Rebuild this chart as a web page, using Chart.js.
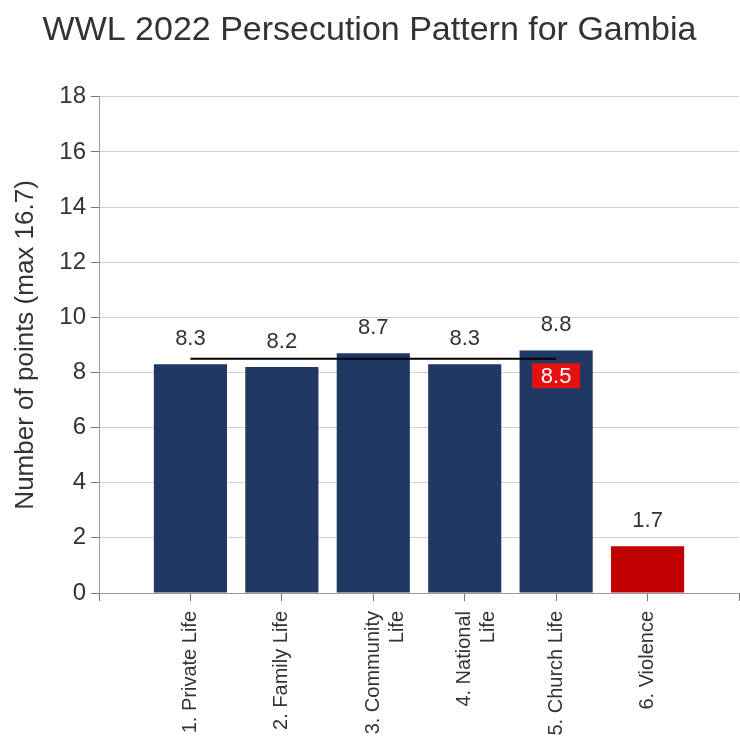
<!DOCTYPE html>
<html>
<head>
<meta charset="utf-8">
<script src="https://cdn.jsdelivr.net/npm/chart.js@4"></script>
<style>
    html, body { margin: 0; padding: 0; background: #fff; }
    #wrap { width: 740px; height: 738px; }
</style>
</head>
<body>
<div id="wrap"><canvas id="chart" width="740" height="738"></canvas></div>
<script>
// Data
const categories = ['', '1. Private Life', '2. Family Life', ['3. Community', 'Life'], ['4. National', 'Life'], '5. Church Life', '6. Violence', ''];
const scores = [null, 8.3, 8.2, 8.7, 8.3, 8.8, 1.7, null];
const averageLine = [null, 8.5, 8.5, 8.5, 8.5, 8.5, null, null];
const averageLabel = '8.5';
const barColors = ['#203864', '#203864', '#203864', '#203864', '#203864', '#203864', '#c00000', '#203864'];

const FONT = "'Liberation Sans', Arial, sans-serif";
const TEXT = '#333333';

// Value labels above bars + the red average box
const labelPlugin = {
    id: 'valueLabels',
    afterDatasetsDraw(chart) {
        const ctx = chart.ctx;
        const bars = chart.getDatasetMeta(0).data;
        ctx.save();
        ctx.font = `22px ${FONT}`;
        ctx.fillStyle = TEXT;
        ctx.textAlign = 'center';
        ctx.textBaseline = 'middle';
        bars.forEach((bar, i) => {
            if (scores[i] == null) return;
            ctx.fillText(scores[i].toFixed(1), bar.x, bar.y - 25);
        });

        const pt = chart.getDatasetMeta(1).data[5];
        const w = 48, h = 25;
        const cy = pt.y + 17;
        ctx.fillStyle = '#e51010';
        ctx.fillRect(pt.x - w / 2, cy - h / 2, w, h);
        ctx.fillStyle = '#ffffff';
        ctx.fillText(averageLabel, pt.x, cy + 1);
        ctx.restore();
    }
};

new Chart(document.getElementById('chart'), {
    type: 'bar',
    data: {
        labels: categories,
        datasets: [{
            type: 'bar',
            data: scores,
            backgroundColor: barColors,
            barPercentage: 0.8,
            categoryPercentage: 1.0,
            order: 2
        }, {
            type: 'line',
            data: averageLine,
            borderColor: '#000000',
            borderWidth: 2,
            pointRadius: 0,
            fill: false,
            order: 1
        }]
    },
    options: {
        responsive: false,
        animation: false,
        events: [],
        layout: { padding: { left: 0, right: 1, top: 0, bottom: 0 } },
        plugins: {
            legend: { display: false },
            tooltip: { enabled: false },
            title: {
                display: true,
                text: 'WWL 2022 Persecution Pattern for Gambia',
                color: TEXT,
                font: { family: FONT, size: 34, weight: 'normal' },
                padding: { top: 10, bottom: 46 }
            }
        },
        scales: {
            x: {
                offset: false,
                grid: { display: true, offset: false, drawOnChartArea: false, drawTicks: true, tickLength: 8, color: '#777777' },
                border: { display: true, color: '#999999' },
                ticks: {
                    autoSkip: false,
                    maxRotation: 90,
                    minRotation: 90,
                    padding: 10,
                    color: TEXT,
                    font: { family: FONT, size: 20 }
                },
                afterFit(scale) {
                    scale.height = 145;
                    scale.paddingLeft = 0;
                    scale.paddingRight = 0;
                }
            },
            y: {
                min: 0,
                max: 18,
                ticks: {
                    stepSize: 2,
                    padding: 5,
                    color: TEXT,
                    font: { family: FONT, size: 24 }
                },
                grid: { color: '#d0d0d0', tickLength: 8, tickColor: '#777777' },
                border: { display: true, color: '#999999' },
                title: {
                    display: true,
                    text: 'Number of points (max 16.7)',
                    color: TEXT,
                    font: { family: FONT, size: 26 },
                    padding: { top: 10, bottom: 0 }
                },
                afterFit(scale) { scale.width = 99; }
            }
        }
    },
    plugins: [labelPlugin]
});
</script>
</body>
</html>
